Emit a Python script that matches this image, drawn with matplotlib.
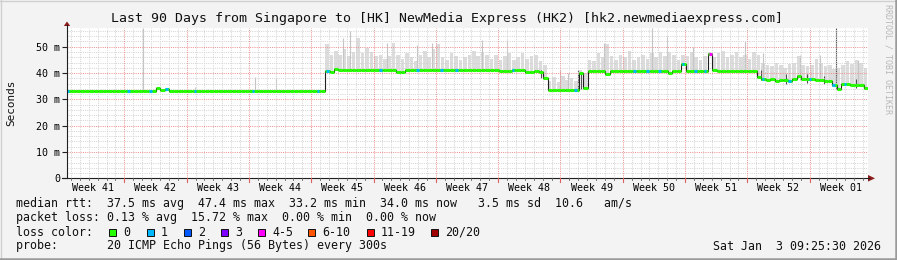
import matplotlib
matplotlib.use('Agg')
import matplotlib.pyplot as plt
import numpy as np
from matplotlib.patches import Rectangle, Polygon

# ---------------- data ----------------
title = "Last 90 Days from Singapore to [HK] NewMedia Express (HK2) [hk2.newmediaexpress.com]"
week_labels = ["Week 41", "Week 42", "Week 43", "Week 44", "Week 45", "Week 46", "Week 47",
               "Week 48", "Week 49", "Week 50", "Week 51", "Week 52", "Week 01"]
first_week_boundary = 6.44      # days after graph start
y_ticks = [0, 10, 20, 30, 40, 50]
y_tick_labels = ["0", "10 m", "20 m", "30 m", "40 m", "50 m"]

# median rtt (ms), one value per half day, 180 values
median_ms = [
    33.3, 33.3, 33.3, 33.3, 33.3, 33.3, 33.3, 33.3, 33.3, 33.3,
    33.3, 33.3, 33.3, 33.3, 33.3, 33.3, 33.3, 33.3, 33.3, 33.3,
    34.5, 33.4, 33.9, 33.3, 33.3, 33.3, 33.3, 33.3, 33.3, 33.3,
    33.3, 33.3, 33.3, 33.3, 33.3, 33.3, 33.3, 33.3, 33.3, 33.3,
    33.3, 33.3, 33.3, 33.3, 33.3, 33.3, 33.3, 33.3, 33.3, 33.3,
    33.3, 33.3, 33.3, 33.3, 33.3, 33.3, 33.3, 33.3, 40.8, 40.3,
    41.4, 41.3, 41.3, 41.2, 41.2, 41.2, 41.1, 41.2, 41.2, 41.1,
    41.0, 41.1, 41.2, 41.1, 40.3, 40.3, 41.0, 41.1, 41.1, 41.0,
    41.0, 41.1, 41.0, 41.0, 41.1, 41.0, 41.0, 41.1, 41.0, 41.1,
    41.1, 41.0, 41.0, 41.2, 41.2, 41.1, 41.0, 40.8, 40.8, 40.9,
    41.0, 41.1, 41.0, 40.3, 40.5, 40.8, 40.5, 38.2, 33.6, 33.6,
    33.6, 33.6, 33.6, 33.6, 33.6, 40.0, 34.5, 40.8, 40.8, 40.9,
    40.8, 39.8, 40.8, 40.8, 40.8, 40.9, 40.8, 40.8, 40.7, 40.8,
    40.8, 40.8, 40.8, 40.7, 40.8, 40.0, 40.8, 40.8, 43.5, 40.8,
    40.8, 40.9, 40.8, 40.8, 47.4, 41.0, 40.8, 40.8, 40.8, 40.8,
    40.8, 40.8, 40.8, 40.9, 40.8, 38.6, 37.8, 37.4, 37.6, 36.8,
    37.2, 37.5, 36.9, 37.8, 38.8, 37.6, 37.6, 37.8, 37.2, 37.3,
    37.0, 36.8, 35.5, 33.8, 35.8, 35.8, 35.5, 35.3, 35.5, 34.5,
]

# upper edge of the grey smoke (ms), one value per half day
smoke_hi_ms = [
    33.3, 33.3, 33.3, 33.3, 33.3, 33.3, 33.3, 33.3, 33.3, 33.3,
    33.3, 33.3, 33.3, 33.3, 33.3, 33.3, 33.3, 33.3, 33.3, 33.3,
    34.5, 33.4, 33.9, 33.3, 33.3, 33.3, 33.3, 33.3, 33.3, 33.3,
    33.3, 33.3, 33.3, 33.3, 33.3, 33.3, 33.3, 33.3, 33.3, 33.3,
    33.3, 33.3, 33.3, 33.3, 33.3, 33.3, 33.3, 33.3, 33.3, 33.3,
    33.3, 33.3, 33.3, 33.3, 33.3, 33.3, 33.3, 33.3, 51.0, 47.0,
    48.5, 47.0, 49.0, 46.5, 48.0, 53.5, 47.5, 49.5, 48.0, 46.5,
    47.0, 45.5, 46.5, 51.3, 47.0, 45.5, 47.5, 46.0, 44.5, 47.0,
    48.5, 46.0, 49.0, 51.0, 46.0, 45.0, 47.5, 46.5, 45.0, 46.0,
    47.0, 48.5, 46.5, 48.0, 47.0, 45.5, 47.0, 45.0, 46.5, 47.5,
    45.0, 46.0, 47.5, 45.5, 46.5, 47.0, 44.5, 43.0, 37.0, 38.5,
    36.5, 39.0, 37.5, 38.0, 37.0, 41.0, 40.0, 45.0, 44.5, 47.5,
    46.0, 51.0, 46.5, 45.0, 47.0, 46.0, 48.5, 45.0, 46.0, 47.0,
    45.5, 47.5, 46.0, 48.0, 46.5, 48.0, 47.0, 45.0, 47.0, 46.5,
    48.0, 46.0, 45.0, 46.5, 48.0, 46.0, 47.5, 48.5, 46.0, 47.0,
    48.0, 46.0, 47.0, 45.5, 48.0, 47.0, 44.0, 43.0, 42.5, 44.0,
    43.0, 42.0, 43.5, 44.0, 46.5, 43.0, 42.5, 43.0, 45.5, 44.0,
    42.5, 43.0, 41.5, 42.0, 43.0, 44.5, 43.5, 45.0, 44.0, 42.0,
]

# isolated light smoke spikes
spike_days = [8.54, 14.4, 21.1, 23.5, 31.0, 31.8, 36.0, 39.3, 41.0, 46.6, 49.4,
              55.4, 56.3, 60.3, 65.7, 67.4, 70.3, 76.2, 78.2, 82.4, 84.6, 88.9]
spike_lo = [33.3, 33.3, 33.3, 33.3, 41.2, 41.2, 41.1, 41.0, 41.0, 41.0, 41.0,
            33.6, 33.6, 40.8, 40.8, 40.8, 40.8, 40.8, 37.5, 37.5, 37.0, 35.3]
spike_hi = [57.0, 34.8, 38.5, 38.0, 53.5, 56.0, 51.3, 50.7, 51.5, 52.6, 52.6,
            41.0, 40.0, 51.4, 57.0, 54.0, 50.0, 52.0, 47.5, 47.0, 47.0, 45.0]
# dark smoke spikes
dark_days = [86.4, 53.3, 57.4, 57.8, 78.0, 80.8, 83.2, 85.0, 88.6]
dark_lo = [34.0, 38.0, 33.6, 34.0, 37.5, 36.0, 36.2, 35.8, 34.2]
dark_hi = [57.0, 41.2, 41.0, 40.5, 41.0, 39.5, 39.8, 39.0, 37.8]

# packets lost (out of 20) at particular moments, otherwise 0
loss_days = [0.1, 6.9, 9.4, 11.2, 14.4, 20.9, 28.2, 29.3, 35.2, 39.4, 42.1, 43.8,
             50.1, 57.1, 63.8, 65.2, 66.6, 69.2, 70.6, 71.7, 72.3, 78.2, 81.2,
             83.5, 86.1, 87.4]
loss_counts = [1, 1, 1, 1, 1, 1, 1, 1, 1, 1, 1, 1,
               1, 1, 1, 1, 1, 1, 1, 1, 4, 1, 1,
               1, 1, 1]

loss_legend_labels = ["0", "1", "2", "3", "4-5", "6-10", "11-19", "20/20"]
loss_legend_colors = ["#26ff00", "#00b8ff", "#0059ff", "#7e00ff", "#ff00fe",
                      "#ff5500", "#ff0000", "#a00000"]

stat_line1 = "median rtt:  37.5 ms avg  47.4 ms max  33.2 ms min  34.0 ms now   3.5 ms sd  10.6   am/s"
stat_line2 = "packet loss: 0.13 % avg  15.72 % max  0.00 % min  0.00 % now"
probe_line = "probe:       20 ICMP Echo Pings (56 Bytes) every 300s"
stamp = "Sat Jan  3 09:25:30 2026"
credit = "RRDTOOL / TOBI OETIKER"


def loss_color(n):
    if n == 0:
        return loss_legend_colors[0]
    if n == 1:
        return loss_legend_colors[1]
    if n == 2:
        return loss_legend_colors[2]
    if n == 3:
        return loss_legend_colors[3]
    if n <= 5:
        return loss_legend_colors[4]
    if n <= 10:
        return loss_legend_colors[5]
    if n <= 19:
        return loss_legend_colors[6]
    return loss_legend_colors[7]


# ---------------- figure ----------------
MONO = 'DejaVu Sans Mono'
W, H = 897, 260
fig = plt.figure(figsize=(W / 100, H / 100), dpi=100)
fig.patch.set_facecolor('#f3f3f3')

X0, X1 = 67, 868
Y0, Y1 = 178.3, 28.3
ax = fig.add_axes([X0 / W, 1 - Y0 / H, (X1 - X0) / W, (Y0 - Y1) / H])
ax.set_facecolor('white')
DAYS = 90.0
YMAX = 57.0
ax.set_xlim(0, DAYS)
ax.set_ylim(0, YMAX)
for s in ax.spines.values():
    s.set_visible(False)

# grid
GRID_MINOR = '#d4d4d4'
GRID_MAJOR = '#f09090'
dot = (0, (1, 1.2))
for v in range(2, 57, 2):
    if v % 10:
        ax.axhline(v, color=GRID_MINOR, lw=0.72, ls=dot, zorder=1.5)
for v in y_ticks[1:]:
    ax.axhline(v, color=GRID_MAJOR, lw=0.72, ls=dot, zorder=1.6)
day_lines = np.arange(first_week_boundary - 6, DAYS, 1.0)
week_lines = np.arange(first_week_boundary, DAYS, 7.0)
for d in day_lines:
    if d > 0.3 and min(abs(d - week_lines)) > 0.1:
        ax.axvline(d, color=GRID_MINOR, lw=0.72, ls=dot, zorder=1.5)
for d in week_lines:
    ax.axvline(d, color=GRID_MAJOR, lw=0.72, ls=dot, zorder=1.6)

# smoke (bars per half day with thin gaps)
n = len(median_ms)
step = DAYS / n
t = np.arange(n) * step
t_edges = np.append(t, DAYS)
med = np.array(median_ms)
shi = np.array(smoke_hi_ms)
ax.bar(t, shi - med, bottom=med, width=step * 0.8, align='edge',
       color='#dcdcdc', lw=0, zorder=1)
ax.vlines(spike_days, spike_lo, spike_hi, color='#c4c4c4', lw=0.8, zorder=1.2)
ax.vlines(dark_days, dark_lo, dark_hi, color='#505050', lw=0.8, zorder=1.3)

# median line (dark) and loss-coloured band
ax.step(t_edges, np.append(med, med[-1]), where='post', color='#202020', lw=0.8, zorder=3)
ax.hlines(med, t, t + step, colors=loss_color(0), lw=2.2, zorder=4)
for d, c in zip(loss_days, loss_counts):
    idx = min(int(d / step), n - 1)
    ax.hlines(med[idx], d - 0.15, d + 0.15, colors=loss_color(c), lw=2.2, zorder=5)

# ticks
label_pos = [first_week_boundary - 3.5 + 7 * k for k in range(len(week_labels))]
ax.set_xticks(label_pos)
ax.set_xticklabels(week_labels, fontfamily=MONO, fontsize=7.2)
ax.tick_params(axis='x', length=0, pad=3.5)
ax.set_yticks(y_ticks)
ax.set_yticklabels(y_tick_labels, fontfamily=MONO, fontsize=7.2)
ax.tick_params(axis='y', length=3.6, width=0.8, color='#202020', pad=1.5)

# ---------------- overlay in pixel coordinates ----------------
ov = fig.add_axes([0, 0, 1, 1], zorder=10)
ov.set_xlim(0, W)
ov.set_ylim(H, 0)
ov.axis('off')

# frame
ov.plot([0, W], [0.5, 0.5], color='#d0d0d0', lw=1)
ov.plot([0.5, 0.5], [0, H], color='#d0d0d0', lw=1)
ov.plot([0, W], [258.8, 258.8], color='#9a9a9a', lw=1.8)
ov.plot([895.8, 895.8], [0, H], color='#9a9a9a', lw=1.8)

# axes lines and arrows
ov.plot([X0, X0], [Y0, 25], color='#202020', lw=0.8)
ov.plot([62, 869], [Y0, Y0], color='#202020', lw=0.8)
ov.add_patch(Polygon([[63.8, 26.0], [70.2, 26.0], [67.0, 21.5]], closed=True,
                     color='#8b1a1a', lw=0))
ov.add_patch(Polygon([[868.0, 175.0], [868.0, 181.6], [875.0, 178.3]], closed=True,
                     color='#8b1a1a', lw=0))


def px_of_day(d):
    return X0 + d * (X1 - X0) / DAYS


for d in day_lines:
    if d >= 0:
        ov.plot([px_of_day(d)] * 2, [Y0, Y0 + 2], color='#606060', lw=0.6)
for d in week_lines:
    ov.plot([px_of_day(d)] * 2, [Y0, Y0 + 3.5], color='#e06060', lw=0.8)

# title and labels
ov.text(447, 18.5, title, fontfamily=MONO, fontsize=9.5, ha='center', va='center', color='#101010')
ov.text(11, 103, "Seconds", fontfamily=MONO, fontsize=7.9, rotation=90,
        ha='center', va='center', color='#101010')
ov.text(888, 4, credit, fontfamily=MONO, fontsize=6.0, rotation=-90,
        ha='center', va='top', color='#b8b8b8')

# stats
ov.text(16, 203.5, stat_line1, fontfamily=MONO, fontsize=8.4, va='center', color='#101010')
ov.text(16, 218.0, stat_line2, fontfamily=MONO, fontsize=8.4, va='center', color='#101010')
ov.text(16, 232.0, "loss color:", fontfamily=MONO, fontsize=8.4, va='center', color='#101010')
sq_x = [108, 146, 183, 220, 257, 307, 366, 430]
for x, lab, col in zip(sq_x, loss_legend_labels, loss_legend_colors):
    ov.add_patch(Rectangle((x + 0.5, 228.5), 7.5, 7.5, facecolor=col, edgecolor='#101010', lw=0.7))
    ov.text(x + 15, 232.0, lab, fontfamily=MONO, fontsize=8.4, va='center', color='#101010')
ov.text(16, 246.0, probe_line, fontfamily=MONO, fontsize=8.4, va='center', color='#101010')
ov.text(881, 246.0, stamp, fontfamily=MONO, fontsize=8.4, va='center', ha='right', color='#101010')

fig.savefig('out.png', dpi=100, facecolor=fig.get_facecolor())
